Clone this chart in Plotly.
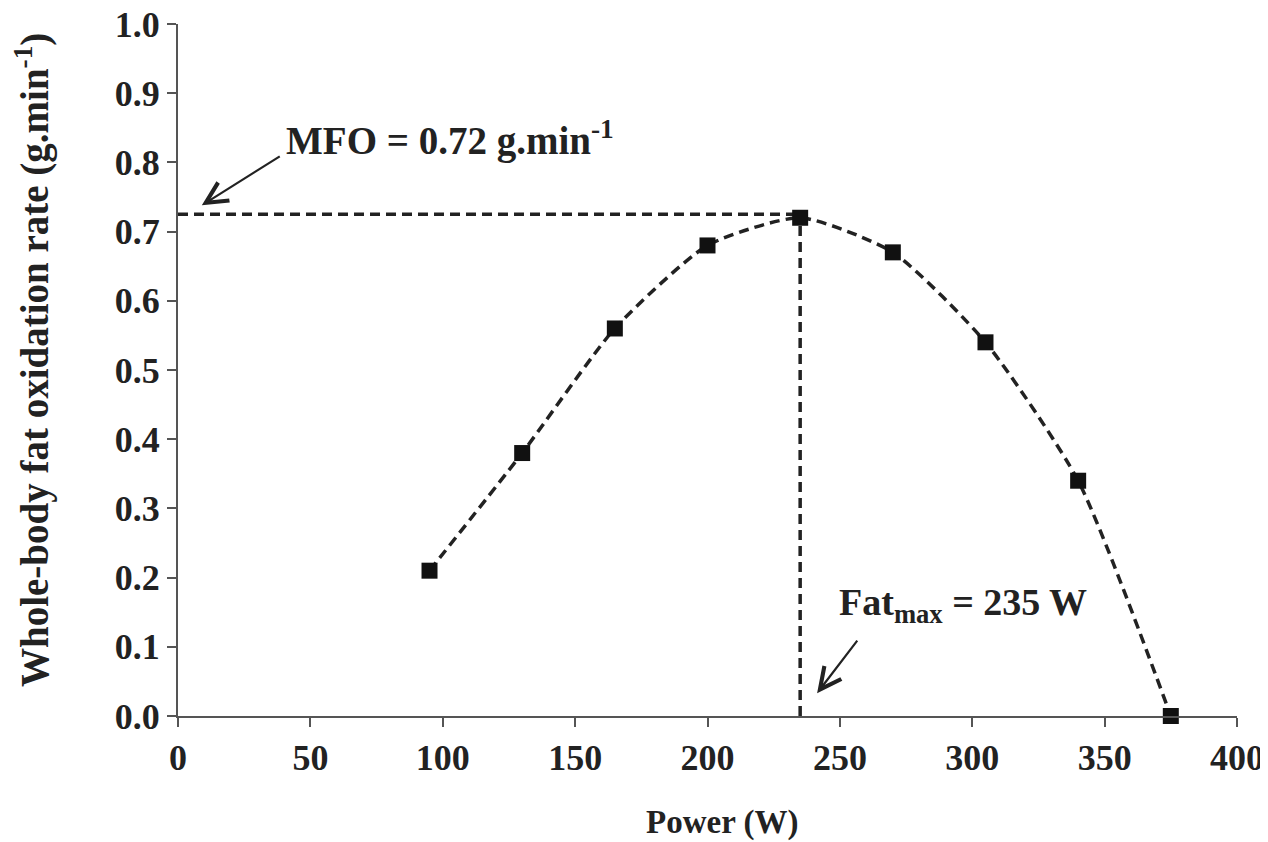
import plotly.graph_objects as go

power = [95, 130, 165, 200, 235, 270, 305, 340, 375]
fat_ox = [0.21, 0.38, 0.56, 0.68, 0.72, 0.67, 0.54, 0.34, 0.0]

mfo_value = 0.725
fatmax_power = 235

x_ticks = [0, 50, 100, 150, 200, 250, 300, 350, 400]
y_ticks = [0.0, 0.1, 0.2, 0.3, 0.4, 0.5, 0.6, 0.7, 0.8, 0.9, 1.0]

FONT = "Liberation Serif"
AX_COLOR = "#555555"
INK = "#222222"
DASH = "10px,6px"

fig = go.Figure()

# reference lines
fig.add_trace(go.Scatter(x=[0, fatmax_power], y=[mfo_value, mfo_value], mode="lines",
                         line=dict(color=INK, width=3.5, dash=DASH),
                         showlegend=False, hoverinfo="skip"))
fig.add_trace(go.Scatter(x=[fatmax_power, fatmax_power], y=[0, mfo_value], mode="lines",
                         line=dict(color=INK, width=3.5, dash=DASH),
                         showlegend=False, hoverinfo="skip"))

fig.add_trace(go.Scatter(x=power, y=fat_ox, mode="lines+markers",
                         line=dict(color=INK, width=3.5, dash=DASH, shape="spline", smoothing=0.6),
                         marker=dict(symbol="square", size=16, color="#111111"),
                         showlegend=False, cliponaxis=False))

# MFO annotation
fig.add_annotation(x=9, y=0.738, ax=39, ay=0.81, xref="x", yref="y", axref="x", ayref="y",
                   text="", showarrow=True, arrowhead=5, arrowsize=1.9, arrowwidth=2.2,
                   arrowcolor=INK)
fig.add_annotation(x=40, y=0.835, xref="x", yref="y", xanchor="left", yanchor="middle",
                   text="<b>MFO = 0.72 g.min<sup>-1</sup></b>", showarrow=False,
                   font=dict(family=FONT, size=39, color=INK))

# Fatmax annotation
fig.add_annotation(x=241.4, y=0.033, ax=257.0, ay=0.111, xref="x", yref="y", axref="x", ayref="y",
                   text="", showarrow=True, arrowhead=5, arrowsize=1.9, arrowwidth=2.2,
                   arrowcolor=INK)
fig.add_annotation(x=249, y=0.16, xref="x", yref="y", xanchor="left", yanchor="middle",
                   text="<b>Fat<sub>max</sub> = 235 W</b>", showarrow=False,
                   font=dict(family=FONT, size=38, color=INK))

# axis titles
fig.add_annotation(x=0.5, y=0, xref="paper", yref="paper", xshift=14, yshift=-106,
                   xanchor="center", yanchor="middle", showarrow=False,
                   text="<b>Power (W)</b>", font=dict(family=FONT, size=33, color=INK))
fig.add_annotation(x=0, y=0.5, xref="paper", yref="paper", xshift=-146, yshift=10,
                   xanchor="center", yanchor="middle", showarrow=False, textangle=-90,
                   text="<b>Whole-body fat oxidation rate (g.min<sup>-1</sup>)</b>",
                   font=dict(family=FONT, size=39, color=INK))

fig.update_layout(
    width=1268, height=842,
    margin=dict(l=170, r=39, t=16, b=134),
    paper_bgcolor="white", plot_bgcolor="white",
    font=dict(family=FONT, size=30, color=INK),
)
fig.update_xaxes(range=[0, 400], tickvals=x_ticks, ticktext=[f"<b>{v}</b>" for v in x_ticks],
                 automargin=False, ticklabeloverflow="allow",
                 showgrid=False, zeroline=False, showline=True, linecolor=AX_COLOR, linewidth=2,
                 ticks="outside", ticklen=9, tickwidth=2, tickcolor=AX_COLOR,
                 tickfont=dict(family=FONT, size=36, color=INK))
fig.update_yaxes(range=[0, 1.0], tickvals=y_ticks, ticktext=[f"<b>{v:.1f}</b>" for v in y_ticks],
                 automargin=False, ticklabeloverflow="allow",
                 showgrid=False, zeroline=False, showline=True, linecolor=AX_COLOR, linewidth=2,
                 ticks="outside", ticklen=9, tickwidth=2, tickcolor=AX_COLOR,
                 tickfont=dict(family=FONT, size=36, color=INK))

fig.write_html("out.html")
